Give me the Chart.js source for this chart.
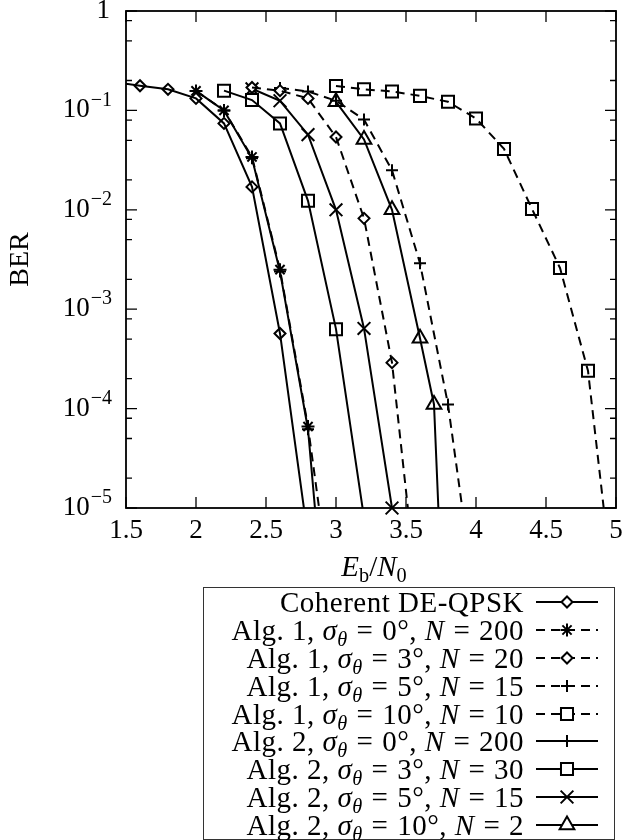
<!DOCTYPE html>
<html>
<head>
<meta charset="utf-8">
<script src="https://cdn.jsdelivr.net/npm/chart.js@4.4.0/dist/chart.umd.min.js"></script>
<style>
    body { margin: 0; background: #fff; }
    #wrap { position: relative; width: 627px; height: 840px; }
    #ChartBer { position: absolute; left: 0; top: 0; }
    #xlabel {
        position: absolute; left: 374px; top: 566px;
        transform: translate(-50%, -50%);
        font: 29px "Liberation Serif", serif; line-height: 1; white-space: nowrap;
    }
    #legend {
        position: absolute; left: 203px; top: 587px; width: 412px; height: 253px;
        box-sizing: border-box; border: 1.5px solid #333; background: #fff;
        font: 29px "Liberation Serif", serif; color: #000; letter-spacing: 0.5px;
    }
    .row { display: flex; justify-content: flex-end; align-items: center; height: 27.9px; line-height: 28px; white-space: nowrap; }
    .row canvas { margin-left: 10px; margin-right: 10px; }
    .rel { margin: 0 1px; }
    sub { font-size: 70%; vertical-align: -0.3em; line-height: 0; }
</style>
</head>
<body>
<div id="wrap">
    <canvas id="ChartBer" width="627" height="840"></canvas>
    <div id="xlabel"><i>E</i><sub>b</sub>/<i>N</i><sub>0</sub></div>
    <div id="legend"></div>
</div>
<script>
// axis ticks
const ebN0Ticks = [1.5, 2, 2.5, 3, 3.5, 4, 4.5, 5];
const berDecades = [0, -1, -2, -3, -4, -5];
const berMinor = [2, 5, 8];
const berMin = 1e-5;

// Coherent DE-QPSK
const cohX = [1.4, 1.6, 1.8, 2.0, 2.2, 2.4, 2.6, 2.8];
const cohBer = [0.195, 0.177, 0.163, 0.132, 0.074, 0.017, 5.7e-4, 5e-6];
// Alg. 1
const a1s0X = [2.0, 2.2, 2.4, 2.6, 2.8, 3.0];
const a1s0Ber = [0.157, 0.10, 0.034, 0.0025, 6.6e-5, 5.6e-7];
const a1s3X = [2.4, 2.6, 2.8, 3.0, 3.2, 3.4, 3.6];
const a1s3Ber = [0.17, 0.158, 0.132, 0.054, 0.0082, 2.9e-4, 7.6e-7];
const a1s5X = [2.6, 2.8, 3.0, 3.2, 3.4, 3.6, 3.8, 4.0];
const a1s5Ber = [0.168, 0.155, 0.125, 0.081, 0.025, 0.0029, 1.1e-4, 1e-6];
const a1s10X = [3.0, 3.2, 3.4, 3.6, 3.8, 4.0, 4.2, 4.4, 4.6, 4.8, 5.0];
const a1s10Ber = [0.176, 0.163, 0.155, 0.14, 0.122, 0.083, 0.041, 0.0102, 0.0026, 2.4e-4, 8.3e-7];
// Alg. 2
const a2s0X = [2.0, 2.2, 2.4, 2.6, 2.8, 3.0];
const a2s0Ber = [0.157, 0.10, 0.033, 0.0024, 6.2e-5, 4e-8];
const a2s3X = [2.2, 2.4, 2.6, 2.8, 3.0, 3.2];
const a2s3Ber = [0.158, 0.127, 0.074, 0.0123, 6.3e-4, 8e-6];
const a2s5X = [2.4, 2.6, 2.8, 3.0, 3.2, 3.4];
const a2s5Ber = [0.165, 0.125, 0.057, 0.010, 6.4e-4, 1e-5];
const a2s10X = [3.0, 3.2, 3.4, 3.6, 3.7, 3.8];
const a2s10Ber = [0.122, 0.051, 0.010, 5.1e-4, 1.1e-4, 5e-8];

const sig = '<i>σ</i><sub><i>θ</i></sub> <span class="rel">=</span> ';
const enn = '<i>N</i> <span class="rel">=</span> ';
const dashed = [9, 6];
const series = [
    { label: 'Coherent DE-QPSK', x: cohX, y: cohBer, dash: [], style: 'rectRot', r: 5.5 },
    { label: 'Alg. 1, ' + sig + '0°, ' + enn + '200', x: a1s0X, y: a1s0Ber, dash: dashed, style: 'star', r: 6.5 },
    { label: 'Alg. 1, ' + sig + '3°, ' + enn + '20', x: a1s3X, y: a1s3Ber, dash: dashed, style: 'rectRot', r: 5.5 },
    { label: 'Alg. 1, ' + sig + '5°, ' + enn + '15', x: a1s5X, y: a1s5Ber, dash: dashed, style: 'cross', r: 6 },
    { label: 'Alg. 1, ' + sig + '10°, ' + enn + '10', x: a1s10X, y: a1s10Ber, dash: dashed, style: 'rect', r: 8.5 },
    { label: 'Alg. 2, ' + sig + '0°, ' + enn + '200', x: a2s0X, y: a2s0Ber, dash: [], style: 'cross', r: 6 },
    { label: 'Alg. 2, ' + sig + '3°, ' + enn + '30', x: a2s3X, y: a2s3Ber, dash: [], style: 'rect', r: 8.5 },
    { label: 'Alg. 2, ' + sig + '5°, ' + enn + '15', x: a2s5X, y: a2s5Ber, dash: [], style: 'crossRot', r: 9 },
    { label: 'Alg. 2, ' + sig + '10°, ' + enn + '2', x: a2s10X, y: a2s10Ber, dash: [], style: 'triangle', r: 8.5 }
];

const datasets = [];
series.forEach(function (s) {
    const pts = s.x.map(function (x, i) { return { x: x, y: s.y[i] }; });
    // line, clipped to the plot
    datasets.push({
        data: pts, showLine: true, borderColor: '#000', borderWidth: 2,
        borderDash: s.dash, pointRadius: 0, pointHoverRadius: 0
    });
    // markers, not clipped so edge markers stay whole
    datasets.push({
        data: pts, showLine: false, clip: false, pointStyle: s.style,
        pointRadius: function (ctx) {
            const p = ctx.raw;
            return p && p.y >= berMin && p.x >= 1.5 && p.x <= 5 ? s.r : 0;
        },
        pointHoverRadius: 0,
        pointBorderColor: '#000', pointBackgroundColor: '#fff', pointBorderWidth: 2
    });
});

// frame, inward ticks and y labels
const frameTicks = {
    id: 'frameTicks',
    afterDraw: function (chart) {
        const ctx = chart.ctx;
        const a = chart.chartArea;
        const xs = chart.scales.x;
        const ys = chart.scales.y;
        ctx.save();
        ctx.strokeStyle = '#000';
        ctx.lineWidth = 1.3;
        ctx.setLineDash([]);
        ctx.beginPath();
        ebN0Ticks.forEach(function (v) {
            const px = xs.getPixelForValue(v);
            ctx.moveTo(px, a.bottom); ctx.lineTo(px, a.bottom - 11);
            ctx.moveTo(px, a.top); ctx.lineTo(px, a.top + 11);
        });
        berDecades.forEach(function (d) {
            const py = ys.getPixelForValue(Math.pow(10, d));
            ctx.moveTo(a.left, py); ctx.lineTo(a.left + 11, py);
            ctx.moveTo(a.right, py); ctx.lineTo(a.right - 11, py);
            if (d > -5) {
                berMinor.forEach(function (m) {
                    const pm = ys.getPixelForValue(m * Math.pow(10, d - 1));
                    ctx.moveTo(a.left, pm); ctx.lineTo(a.left + 6, pm);
                    ctx.moveTo(a.right, pm); ctx.lineTo(a.right - 6, pm);
                });
            }
        });
        ctx.stroke();
        ctx.lineWidth = 1.8;
        ctx.strokeRect(a.left, a.top, a.right - a.left, a.bottom - a.top);

        ctx.fillStyle = '#000';
        ctx.textBaseline = 'middle';
        berDecades.forEach(function (d) {
            const py = ys.getPixelForValue(Math.pow(10, d));
            if (d === 0) {
                ctx.font = '27px "Liberation Serif"';
                ctx.textAlign = 'right';
                ctx.fillText('1', 110, py);
                return;
            }
            const sup = '\u2212' + (-d);
            ctx.font = '20px "Liberation Serif"';
            const sw = ctx.measureText(sup).width;
            ctx.textAlign = 'left';
            ctx.fillText(sup, 112 - sw, py - 10);
            ctx.font = '27px "Liberation Serif"';
            ctx.textAlign = 'right';
            ctx.fillText('10', 111 - sw, py);
        });
        ctx.restore();
    }
};

const config = {
    type: 'scatter',
    data: { datasets: datasets },
    options: {
        responsive: false,
        animation: false,
        events: [],
        layout: { padding: { left: 0, right: 5, top: 11, bottom: 282 } },
        plugins: { legend: { display: false }, tooltip: { enabled: false } },
        scales: {
            x: {
                type: 'linear', min: 1.5, max: 5,
                grid: { display: false }, border: { display: false },
                ticks: {
                    stepSize: 0.5, autoSkip: false, maxRotation: 0, padding: -1,
                    color: '#000', font: { family: 'Liberation Serif', size: 27 },
                    callback: function (value) { return String(value); }
                },
                afterFit: function (scale) { scale.height = 50; scale.paddingLeft = 0; scale.paddingRight = 0; }
            },
            y: {
                type: 'logarithmic', min: 1e-5, max: 1,
                grid: { display: false }, border: { display: false },
                ticks: { display: false },
                title: {
                    display: true, text: 'BER', color: '#000', padding: { top: 4, bottom: 0 },
                    font: { family: 'Liberation Serif', size: 28, weight: 'normal' }
                },
                afterFit: function (scale) { scale.width = 126; }
            }
        }
    },
    plugins: [frameTicks]
};

const myChartBer = new Chart(document.getElementById('ChartBer'), config);

// legend with line samples
const legendBox = document.getElementById('legend');
series.forEach(function (s) {
    const row = document.createElement('div');
    row.className = 'row';
    const txt = document.createElement('span');
    txt.innerHTML = s.label;
    const cv = document.createElement('canvas');
    cv.width = 70; cv.height = 28;
    row.appendChild(txt);
    row.appendChild(cv);
    legendBox.appendChild(row);

    const c = cv.getContext('2d');
    c.strokeStyle = '#000';
    c.lineWidth = 2;
    c.setLineDash(s.dash);
    c.beginPath();
    c.moveTo(2, 14); c.lineTo(64, 14);
    c.stroke();
    c.setLineDash([]);
    c.fillStyle = '#fff';
    Chart.helpers.drawPoint(c, { pointStyle: s.style, radius: s.r, rotation: 0, borderWidth: 2 }, 33, 14);
});
</script>
</body>
</html>
